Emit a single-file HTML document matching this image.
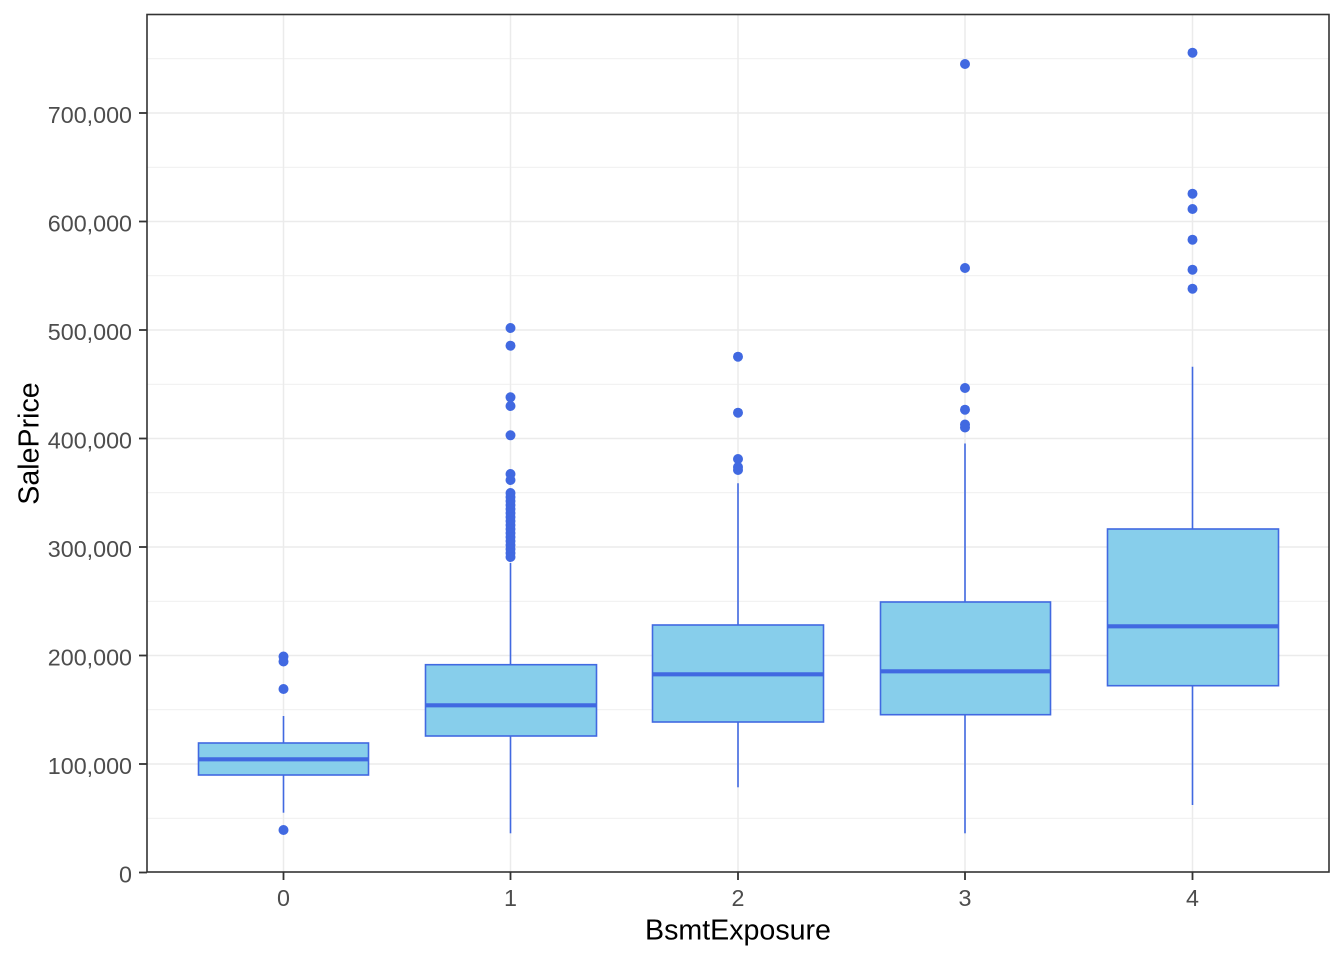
<!DOCTYPE html>
<html><head><meta charset="utf-8"><style>
html,body{margin:0;padding:0;background:#fff;}
svg{display:block;}
text{font-family:"Liberation Sans",Arial,sans-serif;}
</style></head><body>
<svg width="1344" height="960" viewBox="0 0 1344 960" xmlns="http://www.w3.org/2000/svg">
<rect width="1344" height="960" fill="#fff"/>
<g stroke="#EBEBEB" stroke-width="0.8">
<line x1="147" x2="1329" y1="818.25" y2="818.25"/>
<line x1="147" x2="1329" y1="709.75" y2="709.75"/>
<line x1="147" x2="1329" y1="601.25" y2="601.25"/>
<line x1="147" x2="1329" y1="492.75" y2="492.75"/>
<line x1="147" x2="1329" y1="384.25" y2="384.25"/>
<line x1="147" x2="1329" y1="275.75" y2="275.75"/>
<line x1="147" x2="1329" y1="167.25" y2="167.25"/>
<line x1="147" x2="1329" y1="58.75" y2="58.75"/>
</g>
<g stroke="#EBEBEB" stroke-width="1.5">
<line x1="147" x2="1329" y1="764" y2="764"/>
<line x1="147" x2="1329" y1="655.5" y2="655.5"/>
<line x1="147" x2="1329" y1="547" y2="547"/>
<line x1="147" x2="1329" y1="438.5" y2="438.5"/>
<line x1="147" x2="1329" y1="330" y2="330"/>
<line x1="147" x2="1329" y1="221.5" y2="221.5"/>
<line x1="147" x2="1329" y1="113" y2="113"/>
<line y1="14.5" y2="872" x1="283.5" x2="283.5"/>
<line y1="14.5" y2="872" x1="510.5" x2="510.5"/>
<line y1="14.5" y2="872" x1="738" x2="738"/>
<line y1="14.5" y2="872" x1="965" x2="965"/>
<line y1="14.5" y2="872" x1="1192.5" x2="1192.5"/>
</g>
<g stroke="#4169E1" stroke-width="1.6" fill="#87CEEB">
<line x1="283.5" x2="283.5" y1="716" y2="743"/>
<line x1="283.5" x2="283.5" y1="775" y2="812.7"/>
<rect x="198.5" y="743" width="170" height="32"/>
<line x1="198.5" x2="368.5" y1="759.3" y2="759.3" stroke-width="4.2"/>
<line x1="510.5" x2="510.5" y1="563" y2="664.7"/>
<line x1="510.5" x2="510.5" y1="736" y2="833.3"/>
<rect x="425.5" y="664.7" width="171" height="71.3"/>
<line x1="425.5" x2="596.5" y1="705.3" y2="705.3" stroke-width="4.2"/>
<line x1="738" x2="738" y1="483.3" y2="625"/>
<line x1="738" x2="738" y1="722" y2="787.3"/>
<rect x="652.5" y="625" width="171" height="97"/>
<line x1="652.5" x2="823.5" y1="674.3" y2="674.3" stroke-width="4.2"/>
<line x1="965" x2="965" y1="443.5" y2="602"/>
<line x1="965" x2="965" y1="714.7" y2="833.3"/>
<rect x="880.5" y="602" width="170" height="112.7"/>
<line x1="880.5" x2="1050.5" y1="671.3" y2="671.3" stroke-width="4.2"/>
<line x1="1192.5" x2="1192.5" y1="366.7" y2="529"/>
<line x1="1192.5" x2="1192.5" y1="685.7" y2="805"/>
<rect x="1107.5" y="529" width="171" height="156.7"/>
<line x1="1107.5" x2="1278.5" y1="626.3" y2="626.3" stroke-width="4.2"/>
</g>
<g fill="#4169E1">
<circle cx="283.5" cy="656.5" r="5"/>
<circle cx="283.5" cy="661.5" r="5"/>
<circle cx="283.5" cy="689" r="5"/>
<circle cx="283.5" cy="830" r="5"/>
<circle cx="510.5" cy="328" r="5"/>
<circle cx="510.5" cy="345.7" r="5"/>
<circle cx="510.5" cy="397.3" r="5"/>
<circle cx="510.5" cy="406" r="5"/>
<circle cx="510.5" cy="435.3" r="5"/>
<circle cx="510.5" cy="474" r="5"/>
<circle cx="510.5" cy="480" r="5"/>
<circle cx="510.5" cy="493" r="5"/>
<circle cx="510.5" cy="497" r="5"/>
<circle cx="510.5" cy="501" r="5"/>
<circle cx="510.5" cy="505" r="5"/>
<circle cx="510.5" cy="509" r="5"/>
<circle cx="510.5" cy="513" r="5"/>
<circle cx="510.5" cy="517" r="5"/>
<circle cx="510.5" cy="521" r="5"/>
<circle cx="510.5" cy="525" r="5"/>
<circle cx="510.5" cy="529" r="5"/>
<circle cx="510.5" cy="533" r="5"/>
<circle cx="510.5" cy="537" r="5"/>
<circle cx="510.5" cy="541" r="5"/>
<circle cx="510.5" cy="545" r="5"/>
<circle cx="510.5" cy="549" r="5"/>
<circle cx="510.5" cy="553" r="5"/>
<circle cx="510.5" cy="557" r="5"/>
<circle cx="738" cy="356.7" r="5"/>
<circle cx="738" cy="412.7" r="5"/>
<circle cx="738" cy="459" r="5"/>
<circle cx="738" cy="467" r="5"/>
<circle cx="738" cy="470" r="5"/>
<circle cx="965" cy="64" r="5"/>
<circle cx="965" cy="268" r="5"/>
<circle cx="965" cy="388" r="5"/>
<circle cx="965" cy="409.7" r="5"/>
<circle cx="965" cy="424.5" r="5"/>
<circle cx="965" cy="427.5" r="5"/>
<circle cx="1192.5" cy="52.7" r="5"/>
<circle cx="1192.5" cy="193.7" r="5"/>
<circle cx="1192.5" cy="209" r="5"/>
<circle cx="1192.5" cy="239.7" r="5"/>
<circle cx="1192.5" cy="269.7" r="5"/>
<circle cx="1192.5" cy="288.7" r="5"/>
</g>
<rect x="147" y="14.5" width="1182" height="857.5" fill="none" stroke="#333333" stroke-width="1.6"/>
<g stroke="#333333" stroke-width="1.8">
<line x1="139" x2="147" y1="872.5" y2="872.5"/>
<line x1="139" x2="147" y1="764" y2="764"/>
<line x1="139" x2="147" y1="655.5" y2="655.5"/>
<line x1="139" x2="147" y1="547" y2="547"/>
<line x1="139" x2="147" y1="438.5" y2="438.5"/>
<line x1="139" x2="147" y1="330" y2="330"/>
<line x1="139" x2="147" y1="221.5" y2="221.5"/>
<line x1="139" x2="147" y1="113" y2="113"/>
<line y1="872" y2="880" x1="283.5" x2="283.5"/>
<line y1="872" y2="880" x1="510.5" x2="510.5"/>
<line y1="872" y2="880" x1="738" x2="738"/>
<line y1="872" y2="880" x1="965" x2="965"/>
<line y1="872" y2="880" x1="1192.5" x2="1192.5"/>
</g>
<g fill="#4D4D4D" font-size="23.3" text-anchor="end">
<text x="132" y="882.5">0</text>
<text x="132" y="774">100,000</text>
<text x="132" y="665.5">200,000</text>
<text x="132" y="557">300,000</text>
<text x="132" y="448.5">400,000</text>
<text x="132" y="340">500,000</text>
<text x="132" y="231.5">600,000</text>
<text x="132" y="123">700,000</text>
</g>
<g fill="#4D4D4D" font-size="23.3" text-anchor="middle">
<text x="283.5" y="906">0</text>
<text x="510.5" y="906">1</text>
<text x="738" y="906">2</text>
<text x="965" y="906">3</text>
<text x="1192.5" y="906">4</text>
</g>
<text x="738" y="939.5" font-size="28.6" text-anchor="middle" fill="#000">BsmtExposure</text>
<text transform="translate(38.5,443.5) rotate(-90)" font-size="28.6" text-anchor="middle" fill="#000">SalePrice</text>
</svg>
</body></html>
